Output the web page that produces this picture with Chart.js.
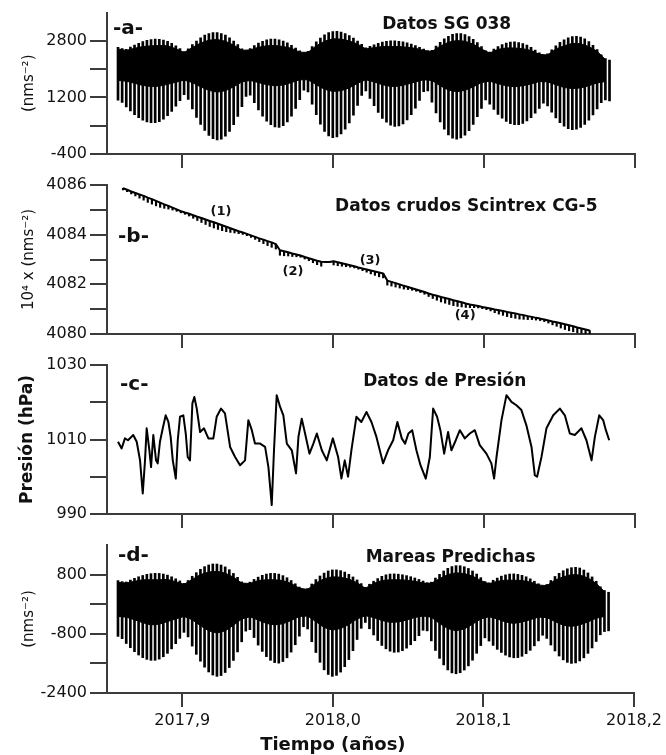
<!DOCTYPE html>
<html><head><meta charset="utf-8">
<script src="https://cdn.jsdelivr.net/npm/chart.js@4.4.1/dist/chart.umd.min.js"></script>
<style>
html,body{margin:0;padding:0;background:#fff;}
#wrap{position:relative;width:666px;height:755px;overflow:hidden;background:#fff;}
canvas{position:absolute;left:0;}
</style></head><body>
<div id="wrap">
<canvas id="cA" width="666" height="170" style="top:0px"></canvas>
<canvas id="cB" width="666" height="180" style="top:170px"></canvas>
<canvas id="cC" width="666" height="180" style="top:350px"></canvas>
<canvas id="cD" width="666" height="225" style="top:530px"></canvas>
</div>
<script>
// ---------------- DATA ----------------
const xTickValues = [2017.9, 2018.0, 2018.1, 2018.2];
const xTickLabels = ['2017,9', '2018,0', '2018,1', '2018,2'];

// Panel a: SG 038 gravity, daily stroke extremes (nm/s^2), daily from sgT0
const sgHigh = [2620,2580,2560,2624,2682,2734,2777,2815,2837,2850,
 2846,2824,2786,2728,2658,2584,2498,2575,2693,2794,
 2889,2962,3010,3037,3037,3010,2962,2889,2794,2693,
 2575,2498,2584,2665,2735,2789,2828,2848,2848,2830,
 2794,2743,2676,2598,2518,2428,2505,2641,2775,2882,
 2970,3034,3066,3067,3047,3009,2948,2877,2797,2699,
 2600,2646,2691,2730,2764,2786,2798,2800,2790,2772,
 2745,2710,2669,2621,2570,2515,2530,2650,2756,2855,
 2931,2982,3008,3005,2976,2923,2846,2752,2640,2520,
 2485,2565,2636,2698,2740,2765,2770,2755,2724,2680,
 2615,2541,2460,2375,2431,2547,2663,2756,2830,2886,
 2920,2930,2911,2857,2779,2671,2555,2407,2300,2260];
const sgLow = [1120,1060,931,820,714,625,555,508,483,484,
 517,585,681,808,956,1106,1276,1144,878,638,
 439,266,126,37,0,21,105,239,432,662,
 938,1228,1267,1050,844,672,528,428,365,350,
 398,505,671,886,1135,1409,1355,1007,711,445,
 238,112,60,85,166,300,477,699,977,1255,
 1386,1172,964,776,610,497,417,380,393,453,
 564,716,895,1119,1360,1382,1063,760,508,301,
 141,47,20,52,135,263,438,653,890,1127,
 1012,860,722,614,519,457,428,432,468,538,
 630,752,887,1041,957,780,622,488,385,318,
 290,303,355,439,559,703,875,1055,1130,1100];
// dense black band of panel a (every 2 days)
const sgBandTop = [2570,2530,2590,2640,2660,2670,2660,2580,2470,2610,
 2740,2820,2840,2790,2680,2535,2545,2620,2660,2670,
 2640,2590,2480,2475,2660,2790,2860,2850,2800,2710,
 2570,2610,2640,2640,2640,2620,2590,2530,2500,2650,
 2760,2810,2790,2710,2570,2455,2560,2600,2600,2580,
 2530,2420,2400,2570,2660,2730,2720,2640,2505,2270];
const sgBandBot = [1680,1660,1600,1540,1510,1520,1570,1630,1690,1620,
 1500,1400,1350,1390,1500,1640,1680,1620,1560,1530,
 1550,1620,1700,1700,1560,1430,1370,1390,1470,1600,
 1700,1640,1560,1510,1520,1570,1640,1700,1680,1530,
 1410,1360,1400,1500,1620,1660,1590,1530,1500,1530,
 1580,1650,1640,1560,1480,1450,1470,1530,1610,1650];

// Panel b: Scintrex CG-5 raw reading (10^4 x nm/s^2), daily from cg5T0, and daily tidal tooth depth
const cg5Reading = [4085.87,4085.81,4085.74,4085.68,4085.62,4085.56,4085.49,4085.43,4085.36,4085.29,
 4085.22,4085.16,4085.09,4085.02,4084.95,4084.89,4084.84,4084.78,4084.72,4084.67,
 4084.61,4084.55,4084.50,4084.44,4084.38,4084.32,4084.26,4084.20,4084.14,4084.09,
 4084.03,4083.97,4083.91,4083.85,4083.80,4083.74,4083.69,4083.62,4083.37,4083.33,
 4083.29,4083.24,4083.20,4083.16,4083.10,4083.05,4083.00,4082.95,4082.91,4082.90,
 4082.90,4082.93,4082.89,4082.85,4082.81,4082.77,4082.73,4082.68,4082.64,4082.60,
 4082.56,4082.52,4082.48,4082.44,4082.15,4082.10,4082.05,4082.00,4081.94,4081.89,
 4081.84,4081.79,4081.74,4081.69,4081.63,4081.58,4081.54,4081.49,4081.45,4081.41,
 4081.36,4081.32,4081.28,4081.23,4081.19,4081.16,4081.13,4081.09,4081.06,4081.03,
 4080.99,4080.96,4080.93,4080.89,4080.86,4080.83,4080.79,4080.76,4080.72,4080.69,
 4080.65,4080.62,4080.58,4080.54,4080.50,4080.47,4080.43,4080.39,4080.35,4080.31,
 4080.26,4080.22,4080.18,4080.14];
const cg5Tide = [0.07,0.08,0.10,0.12,0.15,0.17,0.19,0.20,0.20,0.19,
 0.16,0.13,0.10,0.08,0.07,0.07,0.09,0.12,0.15,0.18,
 0.20,0.22,0.23,0.23,0.22,0.20,0.17,0.13,0.10,0.08,
 0.07,0.08,0.10,0.13,0.16,0.18,0.20,0.20,0.20,0.18,
 0.15,0.12,0.09,0.07,0.08,0.10,0.13,0.16,0.18,0,
 0,0.15,0.14,0.12,0.10,0.08,0.07,0.07,0.09,0.11,
 0.14,0.16,0.18,0.18,0.18,0.17,0.16,0.15,0.13,0.10,
 0.08,0.07,0.07,0.09,0.12,0.15,0.18,0.20,0.21,0.22,
 0.22,0.21,0.19,0.16,0.13,0.10,0.08,0.07,0.08,0.10,
 0.13,0.16,0.18,0.19,0.20,0.20,0.19,0.17,0.14,0.11,
 0.09,0.08,0.08,0.10,0.13,0.16,0.19,0.21,0.22,0.22,
 0.21,0.19,0.17,0.15];

// Panel c: pressure (hPa)
const presT = [2017.8573,2017.8597,2017.8619,2017.8639,2017.8674,2017.8697,2017.8719,2017.8737,2017.8752,2017.8763,
 2017.8781,2017.8792,2017.8807,2017.8825,2017.8836,2017.8851,2017.8867,2017.8889,2017.8907,2017.8922,
 2017.8936,2017.8956,2017.8969,2017.8984,2017.9006,2017.9022,2017.9035,2017.9050,2017.9066,2017.9079,
 2017.9095,2017.9117,2017.9143,2017.9172,2017.9205,2017.9227,2017.9256,2017.9282,2017.9316,2017.9349,
 2017.9382,2017.9415,2017.9437,2017.9460,2017.9481,2017.9515,2017.9548,2017.9570,2017.9592,2017.9607,
 2017.9625,2017.9647,2017.9669,2017.9692,2017.9725,2017.9753,2017.9769,2017.9791,2017.9813,2017.9842,
 2017.9868,2017.9891,2017.9924,2017.9957,2017.9997,2018.0032,2018.0054,2018.0076,2018.0098,2018.0120,
 2018.0153,2018.0186,2018.0220,2018.0253,2018.0286,2018.0330,2018.0363,2018.0397,2018.0425,2018.0454,
 2018.0476,2018.0498,2018.0523,2018.0551,2018.0578,2018.0613,2018.0640,2018.0662,2018.0688,2018.0710,
 2018.0735,2018.0761,2018.0783,2018.0812,2018.0839,2018.0872,2018.0905,2018.0938,2018.0971,2018.1015,
 2018.1048,2018.1066,2018.1082,2018.1115,2018.1148,2018.1181,2018.1214,2018.1247,2018.1280,2018.1314,
 2018.1336,2018.1351,2018.1380,2018.1413,2018.1458,2018.1502,2018.1535,2018.1568,2018.1601,2018.1645,
 2018.1678,2018.1712,2018.1734,2018.1763,2018.1789,2018.1807,2018.1829];
const presV = [1009.4,1007.6,1010.3,1009.8,1011.2,1009.4,1004.4,995.5,1004.4,1013.0,
 1007.1,1002.6,1011.2,1004.4,1003.6,1009.4,1012.5,1016.5,1014.7,1010.7,
 1004.4,999.5,1009.8,1016.1,1016.5,1011.6,1005.3,1004.4,1019.7,1021.4,
 1018.3,1012.0,1013.0,1010.3,1010.3,1016.1,1018.3,1017.0,1008.0,1005.3,
 1003.1,1004.4,1015.2,1012.5,1008.9,1008.9,1008.0,1002.6,992.4,1007.1,
 1021.9,1018.8,1016.5,1008.9,1007.1,1000.9,1010.7,1015.6,1011.6,1006.2,
 1008.9,1011.6,1007.1,1004.4,1010.3,1005.3,999.5,1004.4,1000.0,1007.1,
 1016.1,1014.7,1017.4,1014.7,1010.7,1003.6,1007.1,1009.8,1014.7,1010.3,
 1008.9,1011.6,1012.5,1007.1,1003.1,999.5,1005.3,1018.3,1016.1,1012.5,
 1006.2,1012.0,1007.1,1009.8,1012.5,1010.3,1011.6,1012.5,1008.5,1006.2,
 1003.6,999.5,1005.3,1015.2,1021.9,1020.1,1019.2,1017.9,1013.8,1008.0,
 1000.4,1000.0,1005.3,1013.0,1016.5,1018.3,1016.5,1011.6,1011.2,1013.0,
 1009.8,1004.4,1010.7,1016.5,1015.2,1012.5,1009.8];

// Panel d: predicted tides, daily stroke extremes (nm/s^2)
const tideHigh = [638,610,600,652,699,741,776,807,825,835,
 832,815,786,741,686,629,563,641,755,852,
 944,1014,1061,1087,1086,1059,1008,932,832,726,
 603,520,596,669,732,781,815,833,832,813,
 772,715,640,552,463,362,424,546,666,762,
 840,898,926,927,907,869,807,736,656,556,
 457,540,621,692,754,794,815,819,811,795,
 772,743,708,668,625,579,595,707,806,898,
 969,1017,1041,1039,1013,966,898,816,717,611,
 579,646,706,758,793,815,819,806,780,741,
 685,621,552,479,533,641,749,835,904,956,
 987,997,978,924,845,737,620,471,370,323];
const tideLow = [-870,-931,-1062,-1174,-1283,-1373,-1444,-1491,-1517,-1516,
 -1484,-1420,-1328,-1207,-1066,-923,-761,-884,-1132,-1355,
 -1541,-1702,-1832,-1915,-1950,-1929,-1846,-1712,-1520,-1290,
 -1016,-727,-688,-901,-1105,-1275,-1417,-1516,-1578,-1593,
 -1549,-1449,-1294,-1095,-863,-609,-670,-1014,-1306,-1570,
 -1774,-1899,-1950,-1923,-1835,-1689,-1497,-1256,-954,-652,
 -493,-664,-831,-982,-1115,-1206,-1270,-1300,-1292,-1256,
 -1188,-1096,-987,-851,-705,-721,-992,-1250,-1464,-1641,
 -1777,-1857,-1880,-1852,-1779,-1667,-1514,-1326,-1118,-910,
 -996,-1114,-1220,-1304,-1377,-1425,-1448,-1444,-1408,-1338,
 -1247,-1125,-992,-839,-925,-1104,-1264,-1400,-1504,-1572,
 -1600,-1587,-1534,-1449,-1328,-1182,-1008,-826,-740,-720];
const tideBandTop = [590,570,620,660,660,660,670,610,535,670,
 800,870,890,840,730,570,560,640,660,660,
 640,560,430,400,570,690,740,730,680,580,
 430,560,640,660,660,650,620,570,565,690,
 800,850,830,760,640,550,620,650,650,640,
 600,520,500,650,740,800,790,710,560,340];
const tideBandBot = [-330,-350,-420,-500,-560,-540,-470,-400,-330,-420,
 -580,-720,-780,-720,-570,-400,-340,-430,-520,-560,
 -530,-440,-330,-320,-470,-630,-700,-660,-550,-400,
 -310,-360,-440,-490,-480,-430,-360,-320,-350,-520,
 -660,-720,-670,-540,-400,-340,-400,-480,-520,-480,
 -420,-350,-360,-470,-570,-600,-560,-480,-380,-330];

// y tick values / labels
const sgTicks = [-400, 400, 1200, 2000, 2800];
const sgTickLabels = ['-400', '', '1200', '', '2800'];
const cg5Ticks = [4080, 4081, 4082, 4083, 4084, 4085, 4086];
const cg5TickLabels = ['4080', '', '4082', '', '4084', '', '4086'];
const presTicks = [990, 1000, 1010, 1020, 1030];
const presTickLabels = ['990', '', '1010', '', '1030'];
const tideTicks = [-2400, -1600, -800, 0, 800];
const tideTickLabels = ['-2400', '', '-800', '', '800'];

// sampling
const DAY = 1 / 365.25;
const sgT0 = 2017.8573;
const cg5T0 = 2017.8606;
const BAND_STEP = 2;

// ---------------- RENDER ----------------
const AXIS = '#3c3c3c', INK = '#000', TXT = '#111';
Chart.defaults.font.family = "'DejaVu Sans', 'Liberation Sans', sans-serif";
Chart.defaults.color = TXT;

const times = (t0, n, step) => Array.from({length: n}, (_, i) => t0 + i * step * DAY);
const sgTimes = times(sgT0, sgHigh.length, 1);
const bandTimes = times(sgT0, sgBandTop.length, BAND_STEP);
const cg5Times = times(cg5T0, cg5Reading.length, 1);

function xScale(labels) {
  return {
    type: 'linear', min: 2017.85, max: 2018.2, offset: false,
    afterBuildTicks: s => { s.ticks = xTickValues.map(v => ({value: v})); },
    afterFit: s => { s.height = labels ? 37 : 16; },
    grid: {drawOnChartArea: false, drawTicks: true, tickLength: 14, color: AXIS, lineWidth: 2, offset: false},
    border: {display: true, color: AXIS, width: 2},
    ticks: {display: labels, padding: 4, font: {size: 16}, color: TXT, maxRotation: 0, autoSkip: false,
            callback: (v, i) => xTickLabels[i]}
  };
}
function yScale(min, max, vals, labels, title, tfont, tpad) {
  return {
    type: 'linear', min, max, position: 'left',
    afterBuildTicks: s => { s.ticks = vals.map(v => ({value: v})); },
    afterFit: s => { s.width = 107; },
    grid: {drawOnChartArea: false, drawTicks: true, tickLength: 17, color: AXIS, lineWidth: 2},
    border: {display: true, color: AXIS, width: 2},
    ticks: {padding: 3, font: {size: 16}, color: TXT, autoSkip: false, callback: (v, i) => labels[i]},
    title: {display: true, text: title, font: tfont, color: TXT, padding: {top: tpad, bottom: 0}}
  };
}
function notes(items) {
  return {
    id: 'notes',
    afterDraw(chart) {
      const {ctx, scales: {x, y}} = chart;
      ctx.save();
      ctx.fillStyle = TXT;
      items.forEach(n => {
        ctx.font = n.font;
        ctx.textAlign = n.align || 'left';
        ctx.textBaseline = n.base || 'alphabetic';
        const py = n.below != null ? chart.chartArea.bottom + n.below : y.getPixelForValue(n.y);
        ctx.fillText(n.text, x.getPixelForValue(n.x), py);
      });
      ctx.restore();
    }
  };
}
const baseOpts = (pad, scales) => ({
  responsive: false, animation: false, devicePixelRatio: 1, events: [],
  layout: {padding: {left: 0, right: 31, top: pad.top, bottom: pad.bottom}},
  plugins: {legend: {display: false}, tooltip: {enabled: false}},
  scales
});
function tidePanel(id, high, low, bTop, bBot, yCfg, pad, xLabels, items) {
  return new Chart(document.getElementById(id), {
    type: 'bar',
    data: {datasets: [
      {type: 'line', data: bandTimes.map((t, i) => ({x: t, y: bTop[i]})), borderColor: INK, borderWidth: 1,
       backgroundColor: INK, fill: '+1', pointRadius: 0, tension: 0},
      {type: 'line', data: bandTimes.map((t, i) => ({x: t, y: bBot[i]})), borderColor: INK, borderWidth: 1,
       pointRadius: 0, tension: 0, fill: false},
      {type: 'bar', data: sgTimes.map((t, i) => ({x: t, y: [low[i], high[i]]})), backgroundColor: INK,
       barThickness: 2, borderWidth: 0}
    ]},
    options: baseOpts(pad, {x: xScale(xLabels), y: yCfg}),
    plugins: [notes(items)]
  });
}

// Panel a
tidePanel('cA', sgHigh, sgLow, sgBandTop, sgBandBot,
  yScale(-400, 3600, sgTicks, sgTickLabels, '(nms\u207B\u00B2)', {size: 15}, 20),
  {top: 6, bottom: 0}, false,
  [{text: '-a-', x: 2017.854, y: 2988, font: 'bold 20px "DejaVu Sans"'},
   {text: 'Datos SG 038', x: 2018.0324, y: 3123, font: 'bold 17px "DejaVu Sans"'}]);

// Panel b
new Chart(document.getElementById('cB'), {
  type: 'bar',
  data: {datasets: [
    {type: 'line', data: cg5Times.map((t, i) => ({x: t, y: cg5Reading[i]})), borderColor: INK, borderWidth: 2,
     pointRadius: 0, tension: 0, fill: false, borderJoinStyle: 'round'},
    {type: 'bar', data: cg5Times.map((t, i) => ({x: t, y: [cg5Reading[i] - cg5Tide[i], cg5Reading[i]]})),
     backgroundColor: INK, barThickness: 1.5, borderWidth: 0}
  ]},
  options: baseOpts({top: 15, bottom: 0}, {
    x: xScale(false),
    y: yScale(4080, 4086, cg5Ticks, cg5TickLabels, '10\u2074 x (nms\u207B\u00B2)', {size: 15}, 20)
  }),
  plugins: [notes([
    {text: '-b-', x: 2017.8573, y: 4083.70, font: 'bold 20px "DejaVu Sans"'},
    {text: 'Datos crudos Scintrex CG-5', x: 2018.0012, y: 4084.95, font: 'bold 17px "DejaVu Sans"'},
    {text: '(1)', x: 2017.9256, y: 4084.91, font: 'bold 13px "DejaVu Sans"', align: 'center', base: 'middle'},
    {text: '(2)', x: 2017.9733, y: 4082.53, font: 'bold 13px "DejaVu Sans"', align: 'center', base: 'middle'},
    {text: '(3)', x: 2018.0244, y: 4082.97, font: 'bold 13px "DejaVu Sans"', align: 'center', base: 'middle'},
    {text: '(4)', x: 2018.0874, y: 4080.75, font: 'bold 13px "DejaVu Sans"', align: 'center', base: 'middle'}
  ])]
});

// Panel c
new Chart(document.getElementById('cC'), {
  type: 'line',
  data: {datasets: [
    {data: presT.map((t, i) => ({x: t, y: presV[i]})), borderColor: INK, borderWidth: 2,
     pointRadius: 0, tension: 0, fill: false, borderJoinStyle: 'round'}
  ]},
  options: baseOpts({top: 15, bottom: 0}, {
    x: xScale(false),
    y: yScale(990, 1030, presTicks, presTickLabels, 'Presi\u00F3n (hPa)', {size: 17, weight: 'bold'}, 17)
  }),
  plugins: [notes([
    {text: '-c-', x: 2017.8586, y: 1023.2, font: 'bold 20px "DejaVu Sans"'},
    {text: 'Datos de Presi\u00F3n', x: 2018.0198, y: 1024.3, font: 'bold 17px "DejaVu Sans"'}
  ])]
});

// Panel d
tidePanel('cD', tideHigh, tideLow, tideBandTop, tideBandBot,
  yScale(-2400, 1600, tideTicks, tideTickLabels, '(nms\u207B\u00B2)', {size: 15}, 20),
  {top: 15, bottom: 25}, true,
  [{text: '-d-', x: 2017.8573, y: 1178, font: 'bold 20px "DejaVu Sans"'},
   {text: 'Mareas Predichas', x: 2018.0218, y: 1151, font: 'bold 17px "DejaVu Sans"'},
   {text: 'Tiempo (a\u00F1os)', x: 2018.0, below: 57, font: 'bold 18px "DejaVu Sans"', align: 'center'}]);
</script>
</body></html>
